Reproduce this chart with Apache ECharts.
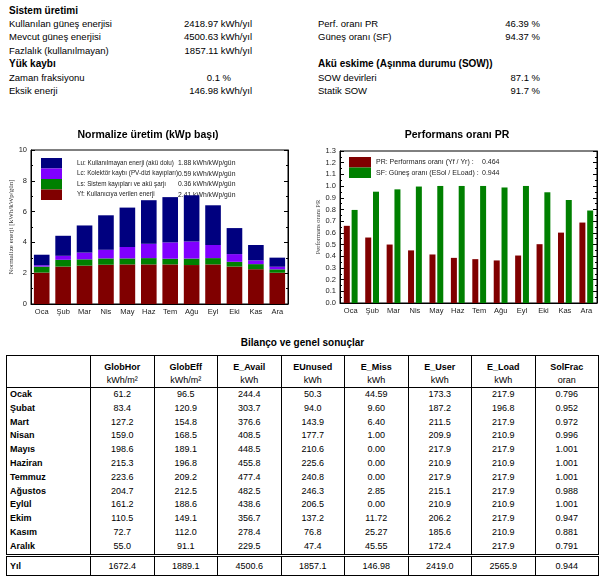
<!DOCTYPE html>
<html>
<head>
<meta charset="utf-8">
<script src="https://cdn.jsdelivr.net/npm/echarts@6/dist/echarts.min.js"></script>
<style>
  html, body { margin:0; padding:0; background:#fff; }
  body { width:605px; height:582px; position:relative; overflow:hidden; font-family:"Liberation Sans", Arial, sans-serif; color:#000; }
  .t { position:absolute; height:12px; line-height:12px; font-size:9.5px; white-space:nowrap; }
  .b { font-weight:bold; font-size:10px; }
  #chart { position:absolute; left:0; top:0; width:605px; height:330px; }
  #tbltitle { position:absolute; left:0; width:605px; top:336px; text-align:center; font-weight:bold; font-size:10px; line-height:14px; }
  table { position:absolute; left:6px; top:355px; width:593px; border-collapse:collapse; table-layout:fixed; font-size:9px; border:1px solid #000; }
  td { padding:0; text-align:center; border-left:1px solid #000; border-right:1px solid #000; white-space:nowrap; overflow:hidden; }
  td.lab { text-align:left; padding-left:3px; font-weight:bold; }
  tr.h1 td { height:16px; font-weight:bold; vertical-align:bottom; }
  tr.h2 td { height:15px; border-bottom:1px solid #000; }
  tr.d td { height:13.8px; line-height:13.8px; }
  tr.y td { height:18px; border-top:3px double #000; }
</style>
</head>
<body>
<div id="summary"></div>
<div id="chart"></div>
<div id="tbltitle">Bilanço ve genel sonuçlar</div>
<table id="tbl"></table>
<script>
// ---------- data ----------
const months = ['Oca','Şub','Mar','Nis','May','Haz','Tem','Ağu','Eyl','Eki','Kas','Ara'];
const yfVals = [2.04, 2.43, 2.49, 2.55, 2.57, 2.57, 2.57, 2.53, 2.57, 2.43, 2.26, 2.03];
const lsVals = [0.39, 0.44, 0.41, 0.41, 0.39, 0.41, 0.37, 0.42, 0.41, 0.31, 0.33, 0.22];
const lcVals = [0.09, 0.26, 0.44, 0.56, 0.74, 0.93, 1.06, 1.11, 0.85, 0.50, 0.24, 0.17];
const luVals = [0.68, 1.30, 1.76, 2.24, 2.56, 2.83, 2.94, 3.00, 2.58, 1.69, 1.00, 0.59];
const prVals = [0.660, 0.560, 0.500, 0.450, 0.415, 0.386, 0.375, 0.364, 0.406, 0.503, 0.602, 0.688];
const sfVals = [0.796, 0.952, 0.972, 0.996, 1.001, 1.001, 1.001, 0.988, 1.001, 0.947, 0.881, 0.791];

const normNames = ['Lu: Kullanılmayan enerji (akü dolu)', 'Lc: Kolektör kaybı (PV-dizi kayıpları)', 'Ls: Sistem kayıpları ve akü şarjı', 'Yf: Kullanıcıya verilen enerji'];
const normValues = ['1.88 kWh/kWp/gün', '0.59 kWh/kWp/gün', '0.36 kWh/kWp/gün', '2.41 kWh/kWp/gün'];
const prNames = ['PR: Performans oranı (Yf / Yr) :', 'SF: Güneş oranı (ESol / ELoad) :'];
const prValues = ['0.464', '0.944'];

const summaryLeft = [
  ['Sistem üretimi', '', true],
  ['Kullanılan güneş enerjisi', '2418.97 kWh/yıl'],
  ['Mevcut güneş enerjisi', '4500.63 kWh/yıl'],
  ['Fazlalık (kullanılmayan)', '1857.11 kWh/yıl'],
  ['Yük kaybı', '', true],
  ['Zaman fraksiyonu', '0.1 %'],
  ['Eksik enerji', '146.98 kWh/yıl']
];
const summaryRight = [
  null,
  ['Perf. oranı PR', '46.39 %'],
  ['Güneş oranı (SF)', '94.37 %'],
  null,
  ['Akü eskime (Aşınma durumu (SOW))', '', true],
  ['SOW devirleri', '87.1 %'],
  ['Statik SOW', '91.7 %']
];
const summaryY = [11, 24, 37, 51, 64, 78, 91];

const tableCols = ['GlobHor','GlobEff','E_Avail','EUnused','E_Miss','E_User','E_Load','SolFrac'];
const tableUnits = ['kWh/m²','kWh/m²','kWh','kWh','kWh','kWh','kWh','oran'];
const tableMonths = ['Ocak','Şubat','Mart','Nisan','Mayıs','Haziran','Temmuz','Ağustos','Eylül','Ekim','Kasım','Aralık'];
const globHor = ['61.2','83.4','127.2','159.0','198.6','215.3','223.6','204.7','161.2','110.5','72.7','55.0'];
const globEff = ['96.5','120.9','154.8','168.5','189.1','196.8','209.2','212.5','188.6','149.1','112.0','91.1'];
const eAvail  = ['244.4','303.7','376.6','408.5','448.5','455.8','477.4','482.5','438.6','356.7','278.4','229.5'];
const eUnused = ['50.3','94.0','143.9','177.7','210.6','225.6','240.8','246.3','206.5','137.2','76.8','47.4'];
const eMiss   = ['44.59','9.60','6.40','1.00','0.00','0.00','0.00','2.85','0.00','11.72','25.27','45.55'];
const eUser   = ['173.3','187.2','211.5','209.9','217.9','210.9','217.9','215.1','210.9','206.2','185.6','172.4'];
const eLoad   = ['217.9','196.8','217.9','210.9','217.9','210.9','217.9','217.9','210.9','217.9','210.9','217.9'];
const solFrac = ['0.796','0.952','0.972','0.996','1.001','1.001','1.001','0.988','1.001','0.947','0.881','0.791'];
const yearRow = ['Yıl','1672.4','1889.1','4500.6','1857.1','146.98','2419.0','2565.9','0.944'];

// ---------- summary text ----------
const summaryDiv = document.getElementById('summary');
function addText(txt, x, y, cls, right) {
  const d = document.createElement('div');
  d.className = 't' + (cls ? ' ' + cls : '');
  d.textContent = txt;
  d.style.top = (y - 6) + 'px';
  if (right) { d.style.right = (605 - x) + 'px'; d.style.textAlign = 'right'; }
  else d.style.left = x + 'px';
  summaryDiv.appendChild(d);
}
summaryLeft.forEach((r, i) => {
  addText(r[0], 9, summaryY[i], r[2] ? 'b' : '');
  if (r[1]) addText(r[1], r[1].indexOf('%') >= 0 ? 231 : 252, summaryY[i], '', true);
});
summaryRight.forEach((r, i) => {
  if (!r) return;
  addText(r[0], 318, summaryY[i], r[2] ? 'b' : '');
  if (r[1]) addText(r[1], 540, summaryY[i], '', true);
});

// ---------- table ----------
const tbl = document.getElementById('tbl');
let html = '<colgroup><col style="width:84px">' + tableCols.map(() => '<col>').join('') + '</colgroup>';
html += '<tr class="h1"><td></td>' + tableCols.map(c => '<td>' + c + '</td>').join('') + '</tr>';
html += '<tr class="h2"><td></td>' + tableUnits.map(c => '<td>' + c + '</td>').join('') + '</tr>';
const cols = [globHor, globEff, eAvail, eUnused, eMiss, eUser, eLoad, solFrac];
tableMonths.forEach((m, i) => {
  html += '<tr class="d"><td class="lab">' + m + '</td>' + cols.map(c => '<td>' + c[i] + '</td>').join('') + '</tr>';
});
html += '<tr class="y"><td class="lab">' + yearRow[0] + '</td>' + yearRow.slice(1).map(v => '<td>' + v + '</td>').join('') + '</tr>';
tbl.innerHTML = html;

// ---------- charts ----------
const chart = echarts.init(document.getElementById('chart'), null, { renderer: 'canvas' });
const FONT = '"Liberation Sans", Arial, sans-serif';
const SERIF = '"Liberation Serif", "DejaVu Serif", serif';
const colNavy = '#00007f', colPurple = '#8000ff', colGreen = '#008000', colRed = '#800000';

function catAxis(gi) {
  return {
    type: 'category', gridIndex: gi, data: months, boundaryGap: true,
    axisLine: { lineStyle: { color: '#000', width: 1 } },
    axisTick: { inside: true, length: 3, alignWithLabel: false, lineStyle: { color: '#000' } },
    axisLabel: { fontSize: 7.5, color: '#222', margin: 4, fontFamily: FONT, interval: 0 }
  };
}
function valAxis(gi, max, interval, pos, showLabel, fmt, name, nameGap, nameSize) {
  return {
    type: 'value', gridIndex: gi, min: 0, max: max, interval: interval, position: pos,
    name: name || '', nameLocation: 'middle', nameGap: nameGap || 0,
    nameTextStyle: { fontFamily: SERIF, fontSize: nameSize || 7, color: '#333' },
    axisLine: { show: true, lineStyle: { color: '#000', width: 1 } },
    axisTick: { show: true, inside: true, length: 4, lineStyle: { color: '#000' } },
    minorTick: { show: true, splitNumber: 2, length: 2, lineStyle: { color: '#000' } },
    splitLine: { show: false },
    axisLabel: { show: showLabel, fontSize: 7.5, color: '#222', margin: 4, fontFamily: FONT, formatter: fmt }
  };
}

const LEG = 7, LEGN = 6.3, LEGV = 6.8;
const option = {
  animation: false,
  textStyle: { fontFamily: FONT },
  grid: [
    { left: 31, top: 150, width: 257, height: 154, show: true, borderColor: '#000', borderWidth: 1, backgroundColor: '#fff' },
    { left: 340, top: 151, width: 257, height: 152, show: true, borderColor: '#000', borderWidth: 1, backgroundColor: '#fff' }
  ],
  graphic: [
    { type: 'text', x: 148, y: 135, style: { text: 'Normalize üretim (kWp başı)', font: 'bold 10.5px ' + FONT, fill: '#000', textAlign: 'center', textVerticalAlign: 'middle' } },
    { type: 'text', x: 457, y: 135, style: { text: 'Performans oranı PR', font: 'bold 10.5px ' + FONT, fill: '#000', textAlign: 'center', textVerticalAlign: 'middle' } }
  ],
  legend: [
    {
      z: 1, orient: 'vertical', left: 41, top: 158, padding: 0, itemWidth: 21, itemHeight: 10.5, itemGap: 0,
      icon: 'rect', selectedMode: false, data: normNames,
      formatter: n => '{s| }{n|' + n + '}{v|' + normValues[normNames.indexOf(n)] + '}',
      textStyle: { color: '#222', fontSize: LEGN, rich: {
        s: { width: 10, fontSize: LEGN, lineHeight: 10.5 },
        n: { width: 101, fontSize: LEGN, lineHeight: 10.5, color: '#222' },
        v: { fontSize: LEGV, lineHeight: 10.5, color: '#222' } } }
    },
    {
      orient: 'vertical', left: 349, top: 157, padding: 0, itemWidth: 22, itemHeight: 10.5, itemGap: 0,
      icon: 'rect', selectedMode: false, data: prNames,
      formatter: n => '{n|' + n + '}{v|' + prValues[prNames.indexOf(n)] + '}',
      textStyle: { color: '#222', fontSize: LEG, rich: {
        n: { width: 106, fontSize: LEG, lineHeight: 10.5, color: '#222' },
        v: { fontSize: LEG, lineHeight: 10.5, color: '#222' } } }
    }
  ],
  xAxis: [catAxis(0), catAxis(1)],
  yAxis: [
    valAxis(0, 10, 2, 'left', true, null, 'Normalize enerji [kWh/kWp/gün]', 15, 7),
    valAxis(0, 10, 2, 'right', false),
    valAxis(1, 1.3, 0.1, 'left', true, v => v.toFixed(1), 'Performans oranı PR', 18, 6.5),
    valAxis(1, 1.3, 0.1, 'right', false)
  ],
  series: [
    { name: normNames[3], type: 'bar', stack: 'n', xAxisIndex: 0, yAxisIndex: 0, data: yfVals, barCategoryGap: '27%', itemStyle: { color: colRed }, z: 2 },
    { name: normNames[2], type: 'bar', stack: 'n', xAxisIndex: 0, yAxisIndex: 0, data: lsVals, itemStyle: { color: colGreen }, z: 2 },
    { name: normNames[1], type: 'bar', stack: 'n', xAxisIndex: 0, yAxisIndex: 0, data: lcVals, itemStyle: { color: colPurple }, z: 2 },
    { name: normNames[0], type: 'bar', stack: 'n', xAxisIndex: 0, yAxisIndex: 0, data: luVals, itemStyle: { color: colNavy }, z: 2 },
    { name: prNames[0], type: 'bar', xAxisIndex: 1, yAxisIndex: 2, data: prVals, barWidth: 6, barGap: '30%', itemStyle: { color: colRed } },
    { name: prNames[1], type: 'bar', xAxisIndex: 1, yAxisIndex: 2, data: sfVals, barWidth: 6, barGap: '30%', itemStyle: { color: colGreen } }
  ]
};
chart.setOption(option);
</script>
</body>
</html>
